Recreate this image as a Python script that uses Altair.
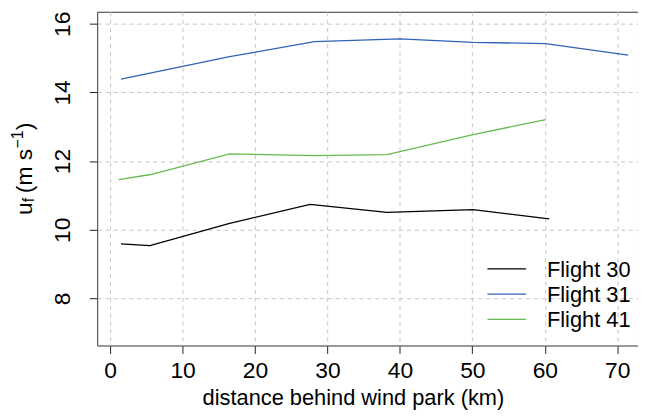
import altair as alt
import pandas as pd

# ---- data ----
flights = ["Flight 30", "Flight 31", "Flight 41"]
colors = ["#000000", "#2f62b5", "#66bb4f"]

km_30 = [1.5, 5.5, 16.5, 27.6, 38.2, 50.1, 60.6]
uf_30 = [9.59, 9.54, 10.19, 10.74, 10.51, 10.59, 10.32]

km_31 = [1.5, 16.5, 28.2, 40.0, 50.1, 60.1, 71.5]
uf_31 = [14.39, 15.04, 15.48, 15.56, 15.46, 15.42, 15.09]

km_41 = [1.2, 5.6, 16.5, 28.2, 38.2, 50.1, 60.1]
uf_41 = [11.46, 11.61, 12.21, 12.16, 12.19, 12.77, 13.21]

x_ticks = [0, 10, 20, 30, 40, 50, 60, 70]
y_ticks = [8, 10, 12, 14, 16]

rows = []
for name, ks, us in [("Flight 30", km_30, uf_30), ("Flight 31", km_31, uf_31), ("Flight 41", km_41, uf_41)]:
    for i, (k, u) in enumerate(zip(ks, us)):
        rows.append({"flight": name, "km": k, "uf": u, "i": i})
df = pd.DataFrame(rows)

FONT = "Liberation Sans"
W, H = 545.6, 336.7

lines = alt.Chart(df).mark_line(strokeWidth=1.3).encode(
    x=alt.X("km:Q",
            scale=alt.Scale(domain=[-1.78, 72.86], nice=False, zero=False),
            axis=alt.Axis(values=x_ticks, tickSize=8, tickColor="#222", domain=False,
                          labelFontSize=23, labelFont=FONT, labelColor="#000",
                          labelPadding=6, labelFlush=False,
                          grid=True, gridDash=[4, 4], gridColor="#c4c4c4", gridWidth=1,
                          title="distance behind wind park (km)", titleFontSize=22,
                          titleFont=FONT, titleFontWeight="normal", titleColor="#000",
                          titleY=60, titleX=258, titleAlign="center",
                          titleBaseline="alphabetic")),
    y=alt.Y("uf:Q",
            scale=alt.Scale(domain=[6.63, 16.35], nice=False, zero=False),
            axis=alt.Axis(values=y_ticks, tickSize=8, tickColor="#222", domain=False,
                          labelFontSize=23, labelFont=FONT, labelColor="#000",
                          labelAngle=270, labelAlign="center", labelBaseline="alphabetic",
                          labelPadding=20, labelFlush=False,
                          grid=True, gridDash=[4, 4], gridColor="#c4c4c4", gridWidth=1),
            title=None),
    color=alt.Color("flight:N", scale=alt.Scale(domain=flights, range=colors), legend=None),
    order="i:Q",
)

one = pd.DataFrame({"a": [0]})
layers = [lines]

# legend (manual, R style)
leg_y = [259.3, 284.8, 310.3]
for name, c, yy in zip(flights, colors, leg_y):
    layers.append(alt.Chart(one).mark_rule(color=c, strokeWidth=1.3).encode(
        x=alt.value(393.7), x2=alt.value(432.7), y=alt.value(yy)))
    layers.append(alt.Chart(one).mark_text(align="left", baseline="alphabetic", fontSize=22,
                                           font=FONT, color="#000").encode(
        x=alt.value(453.7), y=alt.value(yy + 7.9), text=alt.value(name)))

# y axis title u_f (m s^-1) built from pieces
pieces = [("u", 23, -66, 205),
          ("f", 16, -63.5, 192.2),
          ("(m s", 23, -66, 183),
          ("\u22121", 16, -75, 138),
          (")", 23, -66, 119.5)]
for t, fs, xx, yy in pieces:
    layers.append(alt.Chart(one).mark_text(align="left", baseline="alphabetic", angle=270,
                                           fontSize=fs, font=FONT, color="#000").encode(
        x=alt.value(xx), y=alt.value(yy), text=alt.value(t)))

chart = alt.layer(*layers).properties(
    width=W, height=H,
    autosize=alt.AutoSizeParams(type="none"),
    padding={"left": 90, "top": 2, "right": 0, "bottom": 66},
).configure_view(stroke="#333", strokeWidth=1)

chart.save("out.html", embed_options={"renderer": "svg", "actions": False})
